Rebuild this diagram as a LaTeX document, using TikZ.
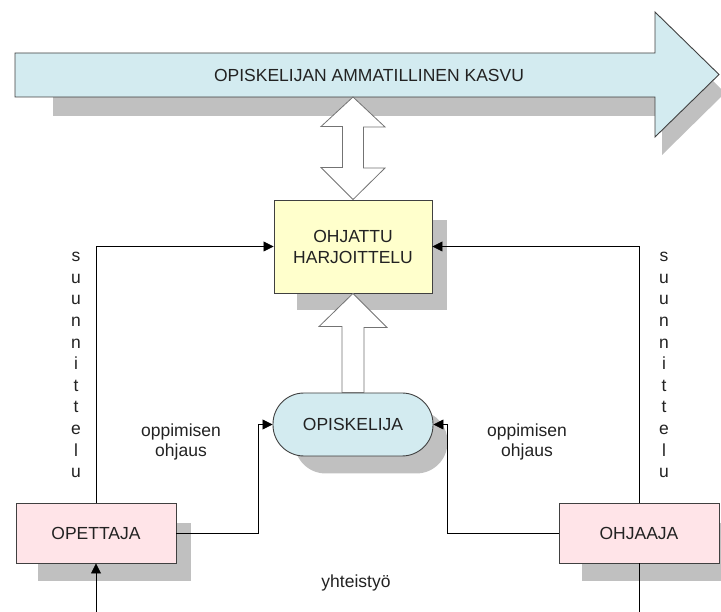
\documentclass[tikz,border=0pt]{standalone}
\usepackage{fontspec}
\setmainfont{Liberation Sans}
\usetikzlibrary{calc,arrows.meta}
\pgfdeclarelayer{bg}
\pgfsetlayers{bg,main}
\definecolor{lblue}{HTML}{D3EBF0}
\definecolor{lyellow}{HTML}{FFFFCC}
\definecolor{lpink}{HTML}{FFE4E8}
\definecolor{shadowgray}{HTML}{C0C0C0}
\definecolor{edge}{HTML}{404040}
\definecolor{txt}{HTML}{222222}
\tikzset{
  every node/.style={text=txt,font=\fontsize{17.5}{21}\selectfont},
  boxstyle/.style={draw=edge,line width=0.9pt,minimum width=160pt,minimum height=60pt,inner sep=0pt},
  conn/.style={draw=black,line width=0.8pt,-{Triangle[length=10pt,width=10pt]}},
  plainline/.style={draw=black,line width=0.8pt},
  fatarrow/.style={draw=gray!90!black,fill=white,line width=0.8pt,line join=miter},
  shadowfill/.style={fill=shadowgray},
  lbl/.style={align=center,inner sep=0pt}
}
\begin{document}
\begin{tikzpicture}[x=1pt,y=-1pt]
\useasboundingbox (0,0) rectangle (721,612);
\clip (0,0) rectangle (721,612);

% big arrow shadow and body
\fill[shadowfill] (53,71) -- (662,71) -- (662,30) -- (725,93) -- (662,155) -- (662,116) -- (53,116) -- cycle;
\draw[draw=edge,fill=lblue,line width=0.9pt,line join=miter]
  (15,53) -- (655,53) -- (655,12) -- (719,74.5) -- (655,137) -- (655,97) -- (15,97) -- cycle;
\node[inner sep=0pt] (kasvu) at (369,75) {OPISKELIJAN AMMATILLINEN KASVU};
\coordinate (kasvubottom) at (353,97);

% main nodes
\node[boxstyle,fill=lyellow,minimum width=158pt,minimum height=93pt,align=center] (box) at (353,246.5) {OHJATTU\\HARJOITTELU};
\node[boxstyle,fill=lblue,minimum width=160pt,minimum height=63pt,rounded corners=31pt] (stud) at (353,424.5) {OPISKELIJA};
\node[boxstyle,fill=lpink] (ope) at (96,533) {OPETTAJA};
\node[boxstyle,fill=lpink] (ohj) at (639,533) {OHJAAJA};

% shadows
\begin{pgfonlayer}{bg}
\fill[shadowfill] ($(box.north west)+(23,20)$) rectangle ($(box.south east)+(15,17)$);
\fill[shadowfill,rounded corners=31pt] ($(stud.north west)+(22,18)$) rectangle ($(stud.south east)+(14,17)$);
\fill[shadowfill] ($(ope.north west)+(22,20)$) rectangle ($(ope.south east)+(15,18)$);
\fill[shadowfill] ($(ohj.north west)+(23,20)$) rectangle ($(ohj.south east)+(15,18)$);
\end{pgfonlayer}

% double arrow between growth arrow and box
\draw[fatarrow] (kasvubottom) -- ++(32,30) -- ++(-21.5,0) -- ++(0,41) -- ++(21.5,0)
  -- (box.north) -- ++(-32,-32) -- ++(21.5,0) -- ++(0,-41) -- ++(-21.5,0) -- cycle;

% up arrow from student to box
\draw[fatarrow] ($(stud.north)+(-11,0)$) -- ++(0,-66) -- ++(-23,0) -- (box.south)
  -- ++(34,34) -- ++(-23,0) -- ($(stud.north)+(11,0)$) -- cycle;

% connectors
\draw[conn] (ope.north) |- (box.west);
\draw[conn] (ohj.north) |- (box.east);
\draw[conn] (ope.east) -- ++(82,0) |- (stud.west);
\draw[conn] (ohj.west) -- ++(-111,0) |- (stud.east);
\coordinate (opebottom) at (96,612);
\coordinate (ohjbottom) at (639,612);
\draw[conn] (opebottom) -- (ope.south);
\draw[plainline] (ohj.south) -- (ohjbottom);

% labels
\node[lbl,font=\fontsize{17.5}{21.6}\selectfont] (suL) at (76,365) {s\\u\\u\\n\\n\\i\\t\\t\\e\\l\\u};
\node[lbl,font=\fontsize{17.5}{21.6}\selectfont] (suR) at (664,365) {s\\u\\u\\n\\n\\i\\t\\t\\e\\l\\u};
\node[lbl,font=\fontsize{17.5}{20}\selectfont] (ohL) at (181,442) {oppimisen\\ohjaus};
\node[lbl,font=\fontsize{17.5}{20}\selectfont] (ohR) at (527,442) {oppimisen\\ohjaus};
\node[inner sep=0pt] (yht) at (356,583) {yhteistyö};
\end{tikzpicture}
\end{document}
